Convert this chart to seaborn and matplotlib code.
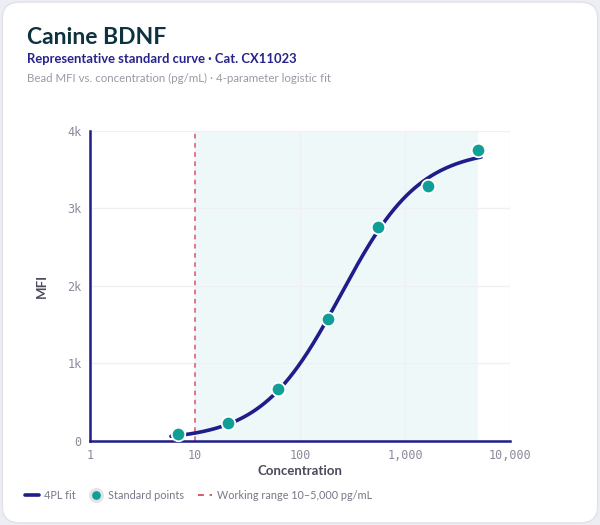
import numpy as np
import pandas as pd
import matplotlib
matplotlib.use("Agg")
import matplotlib.pyplot as plt
from matplotlib.patches import FancyBboxPatch
from matplotlib.lines import Line2D
from matplotlib.ticker import FixedLocator, FuncFormatter
import seaborn as sns

# standard points (3-fold dilution series)
conc = [6.86, 20.6, 61.7, 185, 556, 1667, 5000]
mfi = [90, 228, 667, 1570, 2757, 3286, 3759]

# 4PL fit parameters (bottom, top, EC50, hill) and plotted range
fit_bottom = 10
fit_top = 3770
fit_ec50 = 245
fit_hill = 1.15
fit_range = [5.9, 5300]

work_lo, work_hi = 10, 5000

x_ticks = [1, 10, 100, 1000, 10000]
y_ticks = [0, 1000, 2000, 3000, 4000]

NAVY = "#1f1d8a"
TEAL = "#0f9f96"
RED = "#d9566a"
GRAY = "#8a8a9a"

sns.set_theme(style="white")
plt.rcParams["font.family"] = ["Lato", "DejaVu Sans"]

fit_x = np.geomspace(fit_range[0], fit_range[1], 300)
fit_y = fit_top + (fit_bottom - fit_top) / (1 + (fit_x / fit_ec50) ** fit_hill)
fit_df = pd.DataFrame({"conc": fit_x, "mfi": fit_y})
pts_df = pd.DataFrame({"conc": conc, "mfi": mfi})

fig = plt.figure(figsize=(6, 5.25), dpi=100)
fig.patch.set_facecolor("#eceef3")
card = FancyBboxPatch((0.004, 0.004), 0.992, 0.992, boxstyle="round,pad=0,rounding_size=0.03",
                      transform=fig.transFigure, facecolor="white", edgecolor="#e0e2e8",
                      linewidth=1, zorder=-10)
fig.patches.append(card)

ax = fig.add_axes([0.15, 0.16, 0.70, 0.5905])
ax.set_facecolor("none")

ax.axvspan(work_lo, work_hi, color="#eef8f9", zorder=0, lw=0)
ax.axvline(work_lo, color=RED, linestyle=(0, (3, 3)), linewidth=1.1, zorder=1)

sns.lineplot(data=fit_df, x="conc", y="mfi", ax=ax, color=NAVY, linewidth=2.6, zorder=3)
sns.scatterplot(data=pts_df, x="conc", y="mfi", ax=ax, color=TEAL, s=95,
                edgecolor="white", linewidth=1.3, zorder=4)

ax.set_xscale("log")
ax.set_xlim(1, 10000)
ax.set_ylim(0, 4000)
ax.xaxis.set_major_locator(FixedLocator(x_ticks))
ax.xaxis.set_minor_locator(FixedLocator([]))
ax.xaxis.set_major_formatter(FuncFormatter(lambda v, p: f"{v:,.0f}"))
ax.yaxis.set_major_locator(FixedLocator(y_ticks))
ax.yaxis.set_major_formatter(FuncFormatter(lambda v, p: "0" if v == 0 else f"{v/1000:.0f}k"))

ax.grid(True, color="#eef0f4", linewidth=1)
ax.set_axisbelow(True)
for side in ["top", "right"]:
    ax.spines[side].set_visible(False)
for side in ["left", "bottom"]:
    ax.spines[side].set_color(NAVY)
    ax.spines[side].set_linewidth(1.8)
ax.tick_params(axis="both", length=0, pad=6, labelsize=8.5, labelcolor=GRAY)
for lab in ax.get_xticklabels() + ax.get_yticklabels():
    lab.set_family("DejaVu Sans Mono")

ax.set_xlabel("Concentration", fontsize=9.5, fontweight="bold", color="#4a4a5a", labelpad=2)
ax.set_ylabel("MFI", fontsize=9.5, fontweight="bold", color="#4a4a5a", labelpad=14)

fig.text(0.045, 0.928, "Canine BDNF", fontsize=16.5, fontweight="bold", color="#0e3340",
         va="center")
fig.text(0.045, 0.888, "Representative standard curve · Cat. CX11023", fontsize=9.4,
         fontweight="bold", color="#26238c", va="center")
fig.text(0.045, 0.851, "Bead MFI vs. concentration (pg/mL) · 4-parameter logistic fit",
         fontsize=8.3, color="#999aa5", va="center")

handles = [
    Line2D([], [], color=NAVY, linewidth=2.6),
    Line2D([], [], marker="o", color="none", markerfacecolor=TEAL, markeredgecolor="#e2e2e8",
           markeredgewidth=2.2, markersize=8.5),
    Line2D([], [], color=RED, linestyle=(0, (3, 3)), linewidth=1.4),
]
labels = ["4PL fit", "Standard points", "Working range 10–5,000 pg/mL"]
leg = fig.legend(handles, labels, loc="center left", bbox_to_anchor=(0.025, 0.057), ncol=3,
                 frameon=False, fontsize=7.8, handlelength=1.3, columnspacing=1.2,
                 handletextpad=0.5)
for t in leg.get_texts():
    t.set_color("#777788")

fig.savefig("out.png", dpi=100, facecolor=fig.get_facecolor())
